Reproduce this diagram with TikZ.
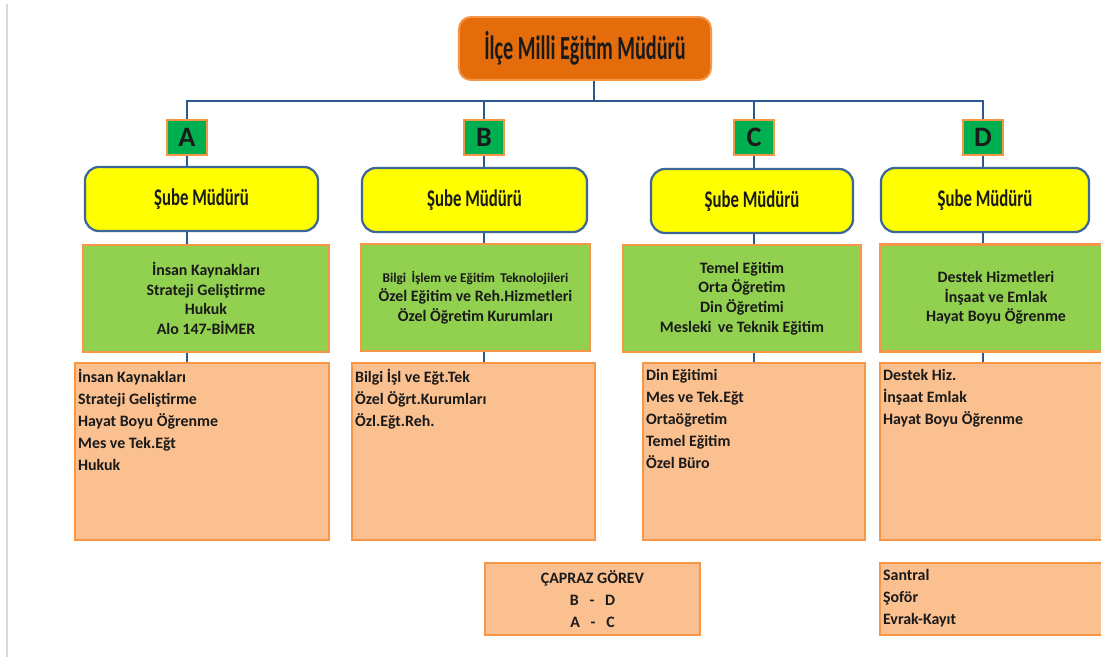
\documentclass[tikz,border=0pt]{standalone}
\usepackage{fontspec}
\setmainfont{Carlito}
\newfontfamily\condfont[FakeStretch=0.6]{Carlito}
\newfontfamily\narrowfont[FakeStretch=0.7]{Carlito}
\usetikzlibrary{positioning, calc}

\definecolor{linkblue}{HTML}{2C5A8C}
\definecolor{chieffill}{HTML}{E46C0A}
\definecolor{chiefedge}{HTML}{F79646}
\definecolor{tagfill}{HTML}{00B050}
\definecolor{headfill}{HTML}{FFFF00}
\definecolor{headedge}{HTML}{3D6797}
\definecolor{unitfill}{HTML}{92D050}
\definecolor{listfill}{HTML}{FAC090}
\definecolor{boxedge}{HTML}{F79646}
\definecolor{inktext}{HTML}{1A1A1A}

\tikzset{
    conn/.style={draw=linkblue, line width=1.7pt},
    chief/.style={draw=chiefedge, fill=chieffill, line width=1.4pt, rounded corners=0.3cm,
        minimum width=6.3cm, minimum height=1.575cm, text=inktext,
        font=\condfont\bfseries\fontsize{24}{26}\selectfont},
    tag/.style={draw=boxedge, fill=tagfill, line width=1.6pt, minimum width=1cm,
        minimum height=0.875cm, inner sep=0pt, text=inktext,
        font=\bfseries\fontsize{20}{22}\selectfont},
    head/.style={draw=headedge, fill=headfill, line width=1.6pt, rounded corners=0.35cm,
        minimum height=1.6cm, text=inktext,
        font=\narrowfont\bfseries\fontsize{17}{19}\selectfont},
    unit/.style={draw=boxedge, fill=unitfill, line width=1.6pt, minimum height=2.675cm,
        align=center, text=inktext, font=\bfseries\fontsize{11.3}{13.9}\selectfont},
    list/.style={draw=boxedge, fill=listfill, line width=1.6pt, minimum height=4.425cm},
    listtext/.style={anchor=north west, inner sep=0pt, align=left, text=inktext,
        font=\bfseries\fontsize{11.3}{15.6}\selectfont}
}

\begin{document}
\begin{tikzpicture}[x=0.025cm, y=-0.025cm]
    \useasboundingbox (0,0) rectangle (1101,657);
    \clip (0,0) rectangle (1101,657);
    \fill[white] (0,0) rectangle (1101,657);
    \draw[black!15, line width=0.8pt] (7,4) -- (7,657);

    % top
    \node[chief] (chief) at (585,48.5) {İlçe Milli Eğitim Müdürü};
    \coordinate (hub) at (594,101);

    % letters
    \node[tag] (lA) at (187,137.5) {A};
    \node[tag] (lB) at (484,137.5) {B};
    \node[tag] (lC) at (754,137.5) {C};
    \node[tag] (lD) at (983,137.5) {D};

    % sube mudurleri
    \node[head, minimum width=5.825cm] (sA) at (201.5,199) {Şube Müdürü};
    \node[head, minimum width=5.625cm] (sB) at (474.5,200) {Şube Müdürü};
    \node[head, minimum width=5.05cm] (sC) at (752,201) {Şube Müdürü};
    \node[head, minimum width=5.2cm] (sD) at (985,200) {Şube Müdürü};

    % birimler
    \node[unit, minimum width=6.15cm] (uA) at (206,298.5) {İnsan Kaynakları\\Strateji Geliştirme\\Hukuk\\Alo 147-BİMER};
    \node[unit, minimum width=5.725cm] (uB) at (475.5,297.5)
        {{\fontsize{9.5}{13.9}\selectfont Bilgi \,İşlem ve Eğitim \,Teknolojileri}\\Özel Eğitim ve Reh.Hizmetleri\\Özel Öğretim Kurumları};
    \node[unit, minimum width=5.95cm] (uC) at (742,298.5) {Temel Eğitim\\Orta Öğretim\\Din Öğretimi\\Mesleki \,ve Teknik Eğitim};
    \node[unit, minimum width=5.8cm] (uD) at (996,298) {Destek Hizmetleri\\İnşaat ve Emlak\\Hayat Boyu Öğrenme};

    % listeler
    \node[list, minimum width=6.35cm] (pA) at (202,451.5) {};
    \node[list, minimum width=6.075cm] (pB) at (473.5,451.5) {};
    \node[list, minimum width=5.55cm] (pC) at (754,451.5) {};
    \node[list, minimum width=5.8cm] (pD) at (996,451.5) {};
    \node[listtext] (tA) at ([xshift=0.1cm, yshift=-0.18cm]pA.north west)
        {İnsan Kaynakları\\Strateji Geliştirme\\Hayat Boyu Öğrenme\\Mes ve Tek.Eğt\\Hukuk};
    \node[listtext] (tB) at ([xshift=0.1cm, yshift=-0.18cm]pB.north west)
        {Bilgi İşl ve Eğt.Tek\\Özel Öğrt.Kurumları\\Özl.Eğt.Reh.};
    \node[listtext] (tC) at ([xshift=0.1cm, yshift=-0.18cm]pC.north west)
        {Din Eğitimi\\Mes ve Tek.Eğt\\Ortaöğretim\\Temel Eğitim\\Özel Büro};
    \node[listtext] (tD) at ([xshift=0.1cm, yshift=-0.18cm]pD.north west)
        {Destek Hiz.\\İnşaat Emlak\\Hayat Boyu Öğrenme};

    % alt kutular
    \node[list, minimum width=5.375cm, minimum height=1.8cm, align=center,
        text=inktext, font=\bfseries\fontsize{11.3}{15.6}\selectfont] (cross) at (592.5,599)
        {ÇAPRAZ GÖREV\\B \ \ - \ \ D\\A \ \ - \ \ C};
    \node[list, minimum width=5.8cm, minimum height=1.8cm] (extra) at (996,599) {};
    \node[listtext] (tE) at ([xshift=0.1cm, yshift=-0.18cm]extra.north west)
        {Santral\\Şoför\\Evrak-Kayıt};

    % baglantilar
    \draw[conn] (chief.south -| hub) -- (hub);
    \draw[conn] (lA.north) -- (lA.north |- hub) -- (lD.north |- hub) -- (lD.north);
    \draw[conn] (lB.north) -- (lB.north |- hub);
    \draw[conn] (lC.north) -- (lC.north |- hub);
    \foreach \k in {A,B,C,D} {
        \draw[conn] (l\k.south) -- (l\k.south |- s\k.north);
        \draw[conn] (l\k.south |- s\k.south) -- (l\k.south |- u\k.north);
        \draw[conn] (l\k.south |- u\k.south) -- (l\k.south |- p\k.north);
    }
\end{tikzpicture}
\end{document}
